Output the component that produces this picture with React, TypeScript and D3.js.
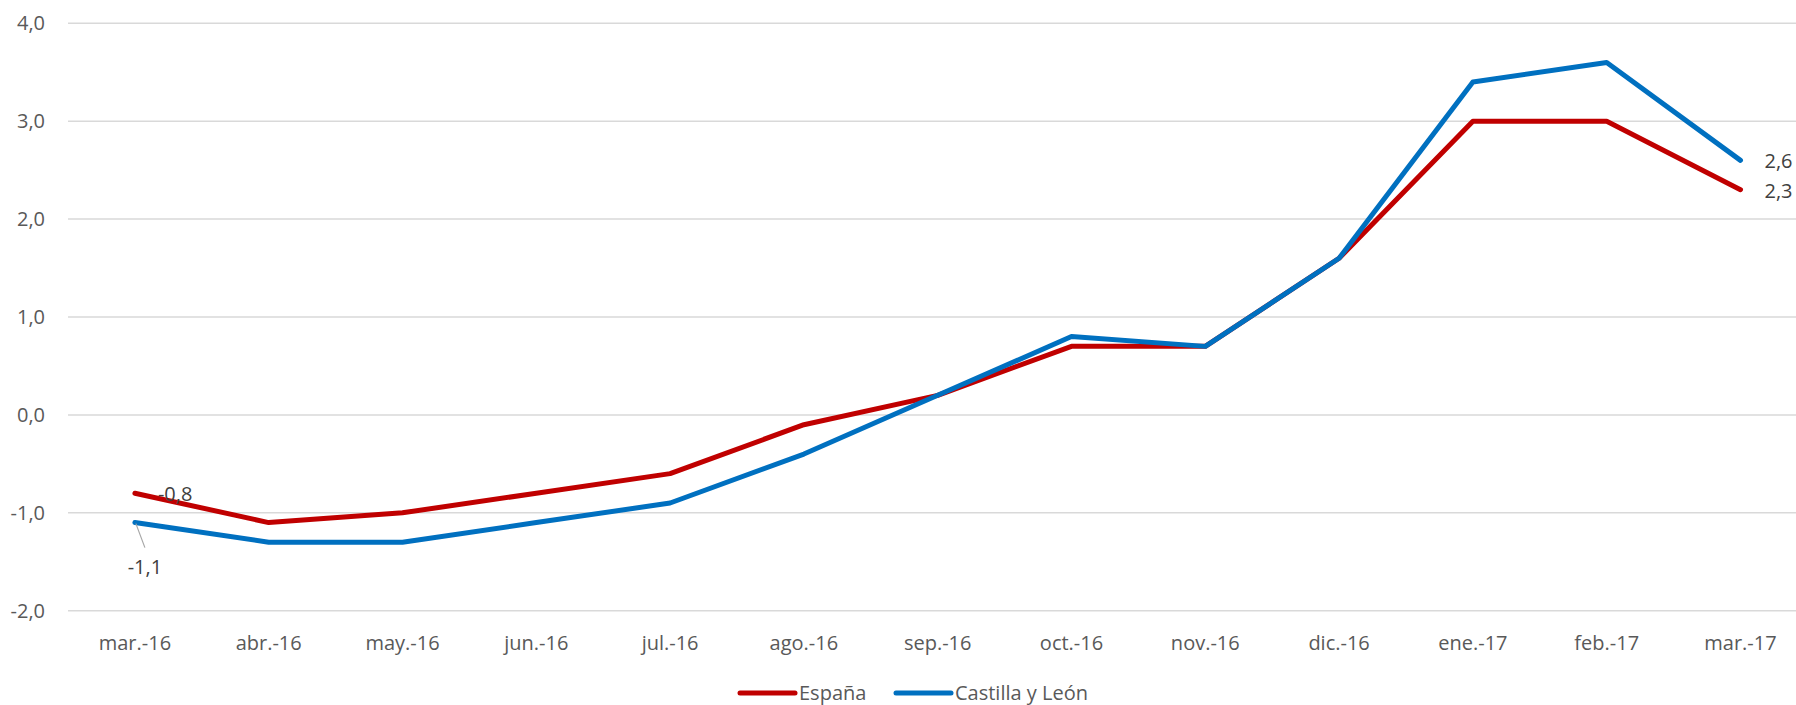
import * as d3 from "d3";
import React, { useEffect, useRef } from "react";

const months = ["mar.-16", "abr.-16", "may.-16", "jun.-16", "jul.-16", "ago.-16", "sep.-16", "oct.-16", "nov.-16", "dic.-16", "ene.-17", "feb.-17", "mar.-17"];
const espana = [-0.8, -1.1, -1.0, -0.8, -0.6, -0.1, 0.2, 0.7, 0.7, 1.6, 3.0, 3.0, 2.3];
const castilla = [-1.1, -1.3, -1.3, -1.1, -0.9, -0.4, 0.2, 0.8, 0.7, 1.6, 3.4, 3.6, 2.6];
const yTicks = [-2, -1, 0, 1, 2, 3, 4];
const seriesNames = ["España", "Castilla y León"];
const seriesColors = ["#C00000", "#0070C0"];

const W = 1796;
const H = 705;
const FONT = "'Open Sans', sans-serif";
const FS = 20;

export default function App() {
  const svgRef = useRef(null);

  useEffect(() => {
    const svg = d3.select(svgRef.current);
    svg.selectAll("*").remove();

    const x = d3.scaleBand().domain(months).range([68, 68 + 133.8 * 13]);
    const y = d3.scaleLinear().domain([-2, 4]).range([610.7, 23.3]);
    const cx = d => x(d) + x.bandwidth() / 2;
    const fmt = v => d3.format(".1f")(v).replace(".", ",").replace("−", "-");

    // gridlines
    svg.append("g")
      .selectAll("line")
      .data(yTicks)
      .enter().append("line")
      .attr("x1", 68)
      .attr("x2", W)
      .attr("y1", d => y(d))
      .attr("y2", d => y(d))
      .attr("stroke", "#d9d9d9")
      .attr("stroke-width", 1.5);

    // y labels
    svg.append("g")
      .selectAll("text")
      .data(yTicks)
      .enter().append("text")
      .attr("x", 45)
      .attr("y", d => y(d))
      .attr("dy", "0.35em")
      .attr("text-anchor", "end")
      .attr("font-family", FONT)
      .attr("font-size", FS)
      .attr("fill", "#595959")
      .text(d => fmt(d));

    // x labels
    svg.append("g")
      .selectAll("text")
      .data(months)
      .enter().append("text")
      .attr("x", d => cx(d))
      .attr("y", 650)
      .attr("text-anchor", "middle")
      .attr("font-family", FONT)
      .attr("font-size", FS)
      .attr("fill", "#595959")
      .text(d => d);

    const line = d3.line()
      .x((d, i) => cx(months[i]))
      .y(d => y(d));

    [espana, castilla].forEach((vals, k) => {
      svg.append("path")
        .datum(vals)
        .attr("fill", "none")
        .attr("stroke", seriesColors[k])
        .attr("stroke-width", 5)
        .attr("stroke-linecap", "round")
        .attr("stroke-linejoin", "round")
        .attr("d", line);
    });

    const first = cx(months[0]);
    const last = cx(months[months.length - 1]);
    const lbl = (px, py, v, anchor = "start") => svg.append("text")
      .attr("x", px)
      .attr("y", py)
      .attr("dy", "0.35em")
      .attr("text-anchor", anchor)
      .attr("font-family", FONT)
      .attr("font-size", FS)
      .attr("fill", "#404040")
      .text(fmt(v));

    // first-point labels
    lbl(first + 23, y(espana[0]) + 1, espana[0]);
    svg.append("line")
      .attr("x1", first + 1)
      .attr("y1", y(castilla[0]) + 1)
      .attr("x2", first + 10)
      .attr("y2", y(castilla[0]) + 25)
      .attr("stroke", "#a6a6a6")
      .attr("stroke-width", 1.2);
    lbl(first + 10, y(castilla[0]) + 44, castilla[0], "middle");

    // last-point labels
    lbl(last + 24, y(castilla[castilla.length - 1]) + 1, castilla[castilla.length - 1]);
    lbl(last + 24, y(espana[espana.length - 1]) + 1, espana[espana.length - 1]);

    // legend
    const legendX = [740, 896];
    seriesNames.forEach((name, k) => {
      const g = svg.append("g");
      g.append("line")
        .attr("x1", legendX[k])
        .attr("x2", legendX[k] + 55)
        .attr("y1", 693)
        .attr("y2", 693)
        .attr("stroke", seriesColors[k])
        .attr("stroke-width", 5)
        .attr("stroke-linecap", "round");
      g.append("text")
        .attr("x", legendX[k] + 59)
        .attr("y", 693)
        .attr("dy", "0.33em")
        .attr("font-family", FONT)
        .attr("font-size", FS)
        .attr("fill", "#595959")
        .text(name);
    });
  }, []);

  return (
    <div style={{ position: "fixed", left: 0, top: 0, width: W, height: H, background: "#fff" }}>
      <svg ref={svgRef} width={W} height={H} style={{ display: "block" }} />
    </div>
  );
}
